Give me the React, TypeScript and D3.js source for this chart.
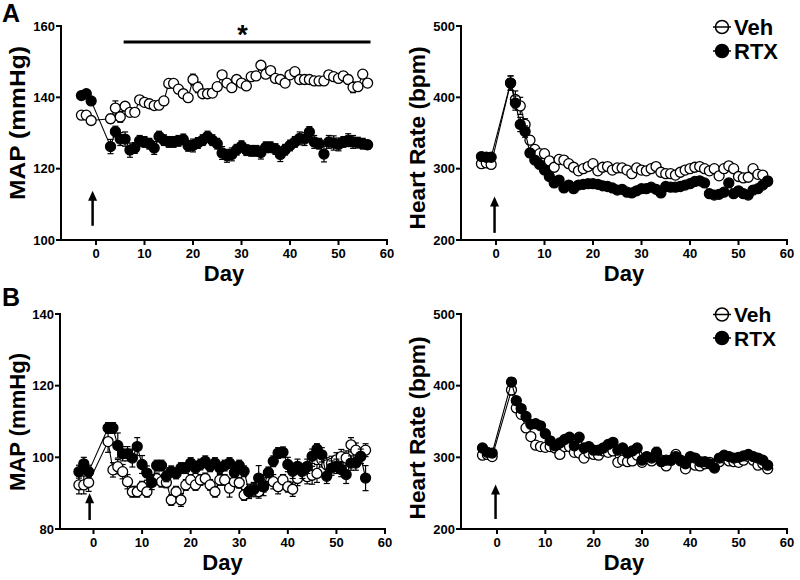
import React from 'react';
import * as d3 from 'd3';

// ---------- DATA ----------
const days = [-3, -2, -1, 3, 4, 5, 6, 7, 8, 9, 10, 11, 12, 13, 14, 15, 16, 17, 18, 19, 20, 21, 22, 23, 24, 25, 26, 27, 28, 29, 30, 31, 32, 33, 34, 35, 36, 37, 38, 39, 40, 41, 42, 43, 44, 45, 46, 47, 48, 49, 50, 51, 52, 53, 54, 55, 56];

// Panel A – MAP (mmHg)
const mapVehA = [135, 135, 133.5,
  134, 137, 134.5, 137.5, 135.8, 135.8, 139.3, 138.6, 138.2, 137.7,
  137.8, 139, 143.9, 143.9, 142.3, 141, 139.9, 145, 142.8, 141,
  141, 141.2, 143, 146.3, 144, 142.7, 145, 144, 143.2, 145.8,
  146, 149, 146.5, 147.5, 145.3, 145, 144, 146.3, 147.2, 145,
  145, 145, 144.6, 144.6, 144.6, 146.3, 145.8, 145.3, 146, 145,
  142.8, 143, 146.5, 144];
const mapVehAErr = [1, 1, 1,
  1.2, 2, 1.5, 1, 1, 1, 1, 1, 1, 1,
  1, 1, 1, 1, 1, 1, 1, 1.5, 1.5, 1,
  1, 1, 1, 1, 1, 1, 1, 1, 1, 1,
  1.2, 1, 1, 1, 1, 1, 1, 1, 1, 1,
  1, 1, 1, 1, 1, 1, 1, 1, 1.2, 1.2,
  1.5, 1, 1, 1];
const mapRtxA = [140.5, 141, 139,
  126.2, 130.4, 128.3, 128.3, 125.2, 125.8, 127.8, 127.5, 127, 125.8,
  129, 128, 127.5, 127.5, 127.8, 128.2, 126.4, 126.5, 127.2, 128,
  129, 128, 127, 124.4, 123.6, 124, 125.3, 126.3, 125.2, 125,
  125, 124.5, 126, 126, 125.5, 124, 125.3, 126.5, 127.5, 128.5,
  128.3, 130.3, 127.5, 127, 124.1, 127.5, 127.2, 126.8, 127.5, 128,
  127.5, 127.3, 127, 126.7];
const mapRtxAErr = [0.8, 0.8, 0.8,
  2, 1.5, 1.8, 2, 2, 1.5, 1.5, 1.5, 1.5, 1.8,
  1.5, 1.5, 1.5, 1.5, 1.5, 1.5, 1.5, 1.8, 1.5, 1.5,
  1.5, 1.5, 1.5, 1.8, 1.8, 1.8, 1.5, 1.5, 1.5, 1.5,
  1.5, 1.8, 1.5, 1.5, 1.5, 2, 1.5, 1.5, 1.5, 1.8,
  1.8, 1.5, 1.8, 1.5, 2.2, 1.8, 2, 1.8, 1.5, 1.8,
  1.8, 1.5, 1.5, 1.2];

// Panel A – Heart rate (bpm)
const hrVehA = [307, 308, 306,
  420, 397, 388, 362, 340, 327, 321, 321, 311, 302,
  313, 312, 307, 302, 297, 300, 303, 307, 297, 302,
  303, 298, 301, 301, 298, 293, 301, 298, 297, 300,
  303, 295, 293, 293, 291, 295, 298, 300, 302, 303,
  300, 297, 300, 290, 300, 304, 300, 289, 287, 288,
  300, 292, 291, 283];
const hrVehAErr = [4, 4, 4,
  10, 12, 12, 8, 6, 5, 5, 5, 5, 5,
  4, 4, 4, 4, 4, 4, 4, 4, 4, 4,
  4, 4, 4, 4, 4, 4, 4, 4, 4, 4,
  4, 4, 4, 4, 4, 4, 4, 4, 4, 4,
  4, 4, 4, 4, 4, 4, 4, 4, 4, 4,
  4, 4, 4, 4];
const hrRtxA = [317, 316, 316,
  420, 392, 362, 352, 322, 312, 306, 298, 289, 280,
  284, 273, 277, 272, 277, 278, 279, 279, 278, 276,
  275, 273, 270, 271, 267, 266, 269, 272, 272, 274,
  271, 266, 275, 274, 274, 275, 277, 279, 282, 283,
  280, 265, 263, 264, 267, 280, 265, 269, 265, 263,
  270, 272, 277, 282];
const hrRtxAErr = [4, 4, 4,
  10, 10, 10, 8, 6, 5, 5, 5, 5, 5,
  4, 4, 4, 4, 4, 4, 4, 4, 4, 4,
  4, 4, 4, 4, 4, 4, 4, 4, 4, 4,
  4, 4, 4, 4, 4, 4, 4, 4, 4, 4,
  4, 4, 4, 4, 4, 4, 4, 4, 4, 4,
  4, 4, 4, 4];

// Panel B – MAP (mmHg)
const mapVehB = [92.3, 92.3, 93,
  104.4, 96.5, 97.4, 96, 93.2, 90.4, 90.4, 91.8, 90.4, 93.7,
  94.1, 93.2, 93, 88.1, 90.4, 88.1, 92.3, 93.7, 92.3, 93.7,
  94.1, 92.3, 90.4, 93.7, 93.7, 91.4, 93.2, 92.9, 89.5, 90.4,
  91.4, 90.4, 91.8, 94.6, 93.2, 91.8, 93.7, 91.8, 91.1, 94.1,
  96, 94.6, 95, 95.5, 99.3, 97.9, 98.3, 99.3, 100.2, 99.8,
  103.5, 102, 100.2, 102];
const mapVehBErr = [2.5, 2.5, 2.5,
  3, 2, 2, 2, 2, 1.5, 1.5, 1.5, 1.5, 1.5,
  1.5, 1.5, 1.5, 1.5, 1.5, 1.8, 1.5, 1.5, 1.5, 1.5,
  1.5, 1.5, 1.5, 1.5, 1.5, 2.5, 1.5, 1.5, 1.5, 1.5,
  1.5, 1.8, 1.5, 1.5, 2, 2, 1.5, 1.5, 2, 2,
  2, 2, 2.5, 2.5, 2, 2, 2, 2, 2, 2,
  2, 2, 2, 1.8];
const mapRtxB = [96, 98.2, 96,
  108.2, 108.2, 103.3, 101, 101, 99.8, 103, 98, 95.6, 93,
  97.7, 97.7, 94.7, 96.1, 95.5, 97, 97, 98.4, 97, 98,
  98.9, 97.5, 98.4, 97, 97.7, 98.4, 95.8, 97.7, 96.1, 90.5,
  91, 94.2, 91.8, 95.8, 98.9, 101.2, 101.4, 98, 96.1, 97.5,
  96.1, 97.5, 100.3, 102.3, 100.7, 94.7, 97, 97.5, 96.6, 95.2,
  98.4, 98.4, 100.3, 94.2];
const mapRtxBErr = [1.8, 1.8, 1.8,
  1.5, 1.5, 3.5, 2, 2, 2.5, 2.5, 2.5, 2, 2,
  1.5, 1.5, 1.5, 1.5, 1.5, 1.5, 1.5, 1.5, 1.5, 1.5,
  1.5, 1.5, 1.5, 1.5, 1.5, 1.5, 1.5, 1.5, 1.5, 2,
  2, 3.5, 2.5, 1.5, 1.5, 1.5, 1.5, 2, 2, 2,
  2, 2, 2, 1.5, 2, 2, 2, 2, 2, 2.5,
  2, 2, 2, 3.5];

// Panel B – Heart rate (bpm)
const hrVehB = [303, 304, 301,
  394, 369, 360, 341, 329, 317, 315, 314, 315, 313,
  304, 315, 315, 307, 306, 299, 306, 304, 303, 309,
  307, 309, 293, 296, 294, 295, 303, 293, 299, 295,
  304, 296, 288, 296, 304, 295, 284, 296, 289, 288,
  291, 293, 289, 294, 299, 295, 294, 293, 296, 301,
  296, 289, 291, 284];
const hrVehBErr = [5, 5, 5,
  7, 5, 5, 5, 5, 5, 5, 5, 5, 5,
  5, 5, 5, 5, 5, 5, 5, 5, 5, 5,
  5, 5, 5, 5, 5, 5, 5, 5, 5, 5,
  5, 5, 5, 5, 5, 5, 5, 5, 5, 5,
  5, 5, 5, 5, 5, 5, 5, 5, 5, 5,
  5, 5, 5, 5];
const hrRtxB = [313, 307, 306,
  405, 379, 368, 357, 346, 347, 344, 333, 323, 316,
  320, 325, 328, 316, 328, 313, 315, 310, 310, 313,
  318, 321, 310, 313, 306, 309, 313, 296, 301, 299,
  307, 294, 296, 296, 301, 296, 291, 301, 299, 294,
  294, 291, 285, 299, 303, 301, 299, 300, 302, 304,
  301, 299, 296, 289];
const hrRtxBErr = [5, 5, 5,
  6, 5, 5, 5, 5, 5, 5, 5, 5, 5,
  5, 5, 5, 5, 5, 5, 5, 5, 5, 5,
  5, 5, 5, 5, 5, 5, 5, 5, 5, 5,
  7, 5, 5, 5, 5, 5, 5, 5, 5, 5,
  5, 5, 5, 5, 5, 5, 5, 5, 5, 5,
  5, 5, 5, 5];

const xTicks = [0, 10, 20, 30, 40, 50, 60];
const mapTicksA = [100, 120, 140, 160];
const hrTicks = [200, 300, 400, 500];
const mapTicksB = [80, 100, 120, 140];
const seriesNames = ['Veh', 'RTX'];
const xTitle = 'Day';

// ---------- LAYOUT ----------
const FONT = '"Liberation Sans", Arial, Helvetica, sans-serif';

type PanelCfg = {
  axisX: number; x0: number; x60: number; yTop: number; yBot: number;
  yDomain: [number, number]; yTicks: number[]; yLabel: string;
  yLabelX: number; yLabelY: number; yLabelLen: number;
  veh: number[]; vehErr: number[]; rtx: number[]; rtxErr: number[];
  arrow: { day: number; from: number; to: number };
  legend?: { x: number; y: number; gap: number; size: number };
  sig?: { fromDay: number; toDay: number; level: number; starDay: number; starY: number };
};

const panels: PanelCfg[] = [
  {
    axisX: 61, x0: 96, x60: 387, yTop: 26, yBot: 240, yDomain: [100, 160], yTicks: mapTicksA,
    yLabel: 'MAP (mmHg)', yLabelX: 25, yLabelY: 123, yLabelLen: 154,
    veh: mapVehA, vehErr: mapVehAErr, rtx: mapRtxA, rtxErr: mapRtxAErr,
    arrow: { day: -0.7, from: 104, to: 113.8 },
    sig: { fromDay: 5.7, toDay: 56.6, level: 155.5, starDay: 30.2, starY: 44 },
  },
  {
    axisX: 461, x0: 496, x60: 787, yTop: 26, yBot: 240, yDomain: [200, 500], yTicks: hrTicks,
    yLabel: 'Heart Rate (bpm)', yLabelX: 425, yLabelY: 138, yLabelLen: 183,
    veh: hrVehA, vehErr: hrVehAErr, rtx: hrRtxA, rtxErr: hrRtxAErr,
    arrow: { day: -0.3, from: 210, to: 261 },
    legend: { x: 722, y: 27, gap: 24, size: 22 },
  },
  {
    axisX: 60, x0: 93.5, x60: 385, yTop: 314, yBot: 529, yDomain: [80, 140], yTicks: mapTicksB,
    yLabel: 'MAP (mmHg)', yLabelX: 25, yLabelY: 422, yLabelLen: 138,
    veh: mapVehB, vehErr: mapVehBErr, rtx: mapRtxB, rtxErr: mapRtxBErr,
    arrow: { day: -0.8, from: 82.5, to: 90 },
    legend: undefined,
  },
  {
    axisX: 461, x0: 497, x60: 787, yTop: 314, yBot: 529, yDomain: [200, 500], yTicks: hrTicks,
    yLabel: 'Heart Rate (bpm)', yLabelX: 425, yLabelY: 428, yLabelLen: 183,
    veh: hrVehB, vehErr: hrVehBErr, rtx: hrRtxB, rtxErr: hrRtxBErr,
    arrow: { day: -0.3, from: 214, to: 262 },
    legend: { x: 722, y: 314.5, gap: 23.5, size: 21 },
  },
];

const R = 5;

function Series({ vals, errs, x, y, filled }: { vals: number[]; errs: number[]; x: any; y: any; filled: boolean }) {
  const line = d3.line<number>().x((_, i) => x(days[i])).y((v) => y(v));
  return (
    <g>
      <path d={line(vals) || ''} fill="none" stroke="#000" strokeWidth={1.1} />
      {vals.map((v, i) => {
        const cx = x(days[i]);
        const y1 = y(v + errs[i]);
        const y2 = y(v - errs[i]);
        return (
          <g key={'e' + i} stroke="#000" strokeWidth={1.2}>
            <line x1={cx} x2={cx} y1={y1} y2={y2} />
            <line x1={cx - 3} x2={cx + 3} y1={y1} y2={y1} />
            <line x1={cx - 3} x2={cx + 3} y1={y2} y2={y2} />
          </g>
        );
      })}
      {vals.map((v, i) => (
        <circle key={'c' + i} cx={x(days[i])} cy={y(v)} r={R}
          fill={filled ? '#000' : '#fff'} stroke="#000" strokeWidth={1.3} />
      ))}
    </g>
  );
}

function Panel({ p }: { p: PanelCfg }) {
  const x = d3.scaleLinear().domain([0, 60]).range([p.x0, p.x60]);
  const y = d3.scaleLinear().domain(p.yDomain).range([p.yBot, p.yTop]);
  const ax = x(p.arrow.day);
  const aTip = y(p.arrow.to);
  const aTail = y(p.arrow.from);
  return (
    <g fontFamily={FONT} fontWeight="bold">
      {/* axes */}
      <line x1={p.axisX} x2={p.axisX} y1={p.yTop - 1} y2={p.yBot + 1} stroke="#000" strokeWidth={2} />
      <line x1={p.axisX - 1} x2={x(60) + 1} y1={p.yBot} y2={p.yBot} stroke="#000" strokeWidth={2} />
      {p.yTicks.map((t) => (
        <g key={'yt' + t}>
          <line x1={p.axisX - 5} x2={p.axisX} y1={y(t)} y2={y(t)} stroke="#000" strokeWidth={2} />
          <text x={p.axisX - 6} y={y(t)} dy="0.36em" textAnchor="end" fontSize={13}>{t}</text>
        </g>
      ))}
      {xTicks.map((t) => (
        <g key={'xt' + t}>
          <line x1={x(t)} x2={x(t)} y1={p.yBot} y2={p.yBot + 5} stroke="#000" strokeWidth={2} />
          <text x={x(t)} y={p.yBot + 17.5} textAnchor="middle" fontSize={13}>{t}</text>
        </g>
      ))}
      <text x={(p.axisX + x(60)) / 2} y={p.yBot + 41} textAnchor="middle" fontSize={22}>{xTitle}</text>
      <text transform={`translate(${p.yLabelX},${p.yLabelY}) rotate(-90)`} textAnchor="middle" fontSize={22}
        textLength={p.yLabelLen} lengthAdjust="spacingAndGlyphs">{p.yLabel}</text>

      {/* series */}
      <Series vals={p.veh} errs={p.vehErr} x={x} y={y} filled={false} />
      <Series vals={p.rtx} errs={p.rtxErr} x={x} y={y} filled={true} />

      {/* arrow */}
      <line x1={ax} x2={ax} y1={aTail} y2={aTip + 8} stroke="#000" strokeWidth={2.5} />
      <path d={`M${ax},${aTip} L${ax - 4.5},${aTip + 10} L${ax + 4.5},${aTip + 10} Z`} fill="#000" />

      {/* significance */}
      {p.sig && (
        <g>
          <line x1={x(p.sig.fromDay)} x2={x(p.sig.toDay)} y1={y(p.sig.level)} y2={y(p.sig.level)} stroke="#000" strokeWidth={3} />
          <text x={x(p.sig.starDay)} y={p.sig.starY} textAnchor="middle" fontSize={27}>*</text>
        </g>
      )}

      {/* legend */}
      {p.legend && seriesNames.map((name, i) => {
        const lg = p.legend!;
        const ly = lg.y + i * lg.gap;
        return (
          <g key={name}>
            <line x1={lg.x - 9} x2={lg.x + 9} y1={ly} y2={ly} stroke="#000" strokeWidth={1.5} />
            <circle cx={lg.x} cy={ly} r={6.5} fill={i === 0 ? 'none' : '#000'} stroke="#000" strokeWidth={1.5} />
            <text x={lg.x + 12} y={ly + 7.5} fontSize={lg.size}>{name}</text>
          </g>
        );
      })}
    </g>
  );
}

export default function App() {
  return (
    <svg width={800} height={580} viewBox="0 0 800 580"
      style={{ position: 'absolute', left: 0, top: 0, background: '#fff' }}>
      <rect x={0} y={0} width={800} height={580} fill="#fff" />
      <text x={2} y={22} fontFamily={FONT} fontWeight="bold" fontSize={25}>A</text>
      <text x={2} y={306} fontFamily={FONT} fontWeight="bold" fontSize={25}>B</text>
      {panels.map((p, i) => <Panel key={i} p={p} />)}
    </svg>
  );
}
